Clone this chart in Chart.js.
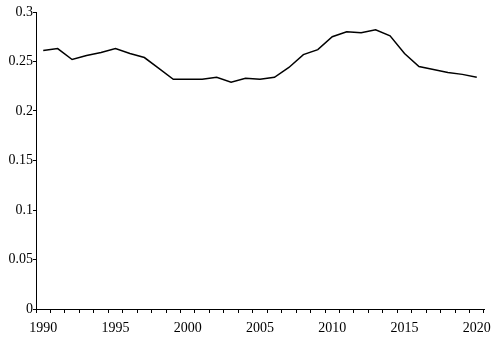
<!DOCTYPE html>
<html>
<head>
<meta charset="utf-8">
<script src="https://cdn.jsdelivr.net/npm/chart.js@4"></script>
<style>
  html, body { margin: 0; padding: 0; background: #fff; }
  #wrap { width: 500px; height: 341px; }
</style>
</head>
<body>
<div id="wrap"><canvas id="chart1"></canvas></div>
<script>
// years on the x axis
const years = []
for (let y = 1990; y <= 2020; y++) years.push(String(y))

// values
const values = [
    0.261, 0.263, 0.252, 0.256, 0.259, 0.263, 0.258, 0.254, 0.243, 0.232,
    0.232, 0.232, 0.234, 0.229, 0.233, 0.232, 0.234, 0.244, 0.257, 0.262,
    0.275, 0.280, 0.279, 0.282, 0.276, 0.258, 0.245, 0.242, 0.239, 0.237,
    0.234
]

const yTicks = [0, 0.05, 0.1, 0.15, 0.2, 0.25, 0.3]

const font = { family: "'Liberation Serif', 'Times New Roman', serif", size: 14 }

const ctx = document.getElementById('chart1').getContext('2d')

const chart1 = new Chart(ctx, {
    type: 'line',
    data: {
        labels: years,
        datasets: [{
            data: values,
            borderColor: '#000',
            borderWidth: 1.5,
            pointRadius: 0,
            tension: 0,
            fill: false
        }]
    },
    options: {
        responsive: true,
        maintainAspectRatio: false,
        animation: false,
        layout: { padding: { top: 12, right: 16, bottom: 0, left: 0 } },
        plugins: {
            legend: { display: false },
            tooltip: { enabled: false }
        },
        scales: {
            x: {
                offset: true,
                grid: {
                    offset: true,
                    drawOnChartArea: false,
                    tickLength: 4,
                    color: '#000'
                },
                border: { color: '#000', width: 1 },
                ticks: {
                    autoSkip: false,
                    maxRotation: 0,
                    color: '#000',
                    font: font,
                    padding: 7,
                    callback: function (v, i) {
                        const y = years[i]
                        return Number(y) % 5 === 0 ? y : ''
                    }
                },
                afterFit: function (scale) { scale.height = 32 }
            },
            y: {
                min: 0,
                max: 0.3,
                afterBuildTicks: function (scale) {
                    scale.ticks = yTicks.map(v => ({ value: v }))
                },
                grid: {
                    drawOnChartArea: false,
                    tickLength: 3,
                    color: '#000'
                },
                border: { color: '#000', width: 1 },
                ticks: {
                    color: '#000',
                    font: font,
                    padding: 0,
                    callback: function (v) { return String(v) }
                },
                afterFit: function (scale) { scale.width = 36 }
            }
        }
    }
})
</script>
</body>
</html>
